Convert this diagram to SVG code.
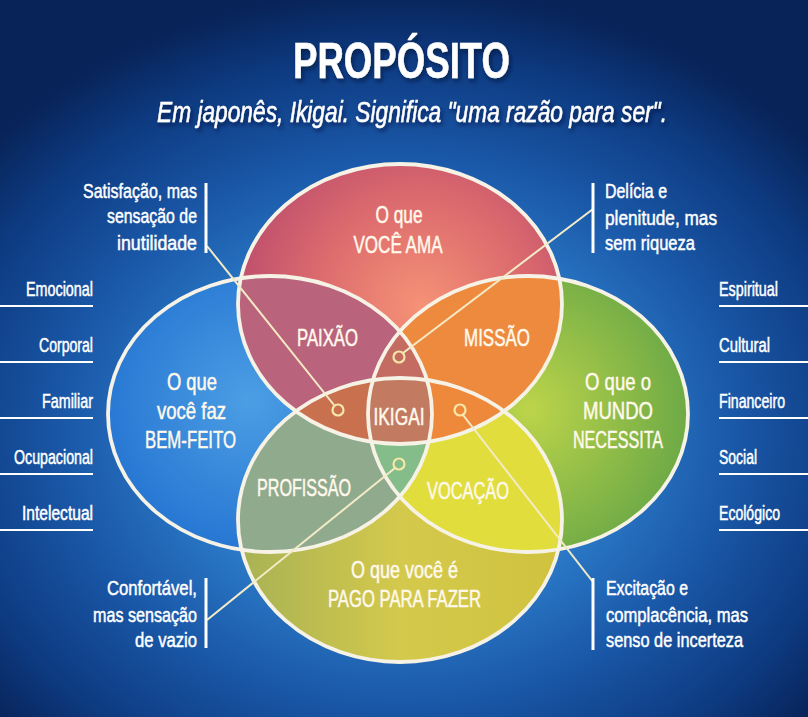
<svg xmlns="http://www.w3.org/2000/svg" width="808" height="717" viewBox="0 0 808 717">
<defs>
  <radialGradient id="bg" gradientUnits="userSpaceOnUse" cx="0" cy="0" r="1" gradientTransform="translate(400 430) scale(540 440)">
    <stop offset="0" stop-color="#4aa0e0"/>
    <stop offset="0.35" stop-color="#2f82cf"/>
    <stop offset="0.62" stop-color="#1a58a8"/>
    <stop offset="0.85" stop-color="#0d3a80"/>
    <stop offset="1" stop-color="#082358"/>
  </radialGradient>
  <radialGradient id="gT" gradientUnits="userSpaceOnUse" cx="420" cy="305" r="185">
    <stop offset="0" stop-color="#f59276"/>
    <stop offset="0.55" stop-color="#dd6c6e"/>
    <stop offset="1" stop-color="#bf4f6c"/>
  </radialGradient>
  <radialGradient id="gL" gradientUnits="userSpaceOnUse" cx="250" cy="400" r="175">
    <stop offset="0" stop-color="#4c9ee4"/>
    <stop offset="1" stop-color="#2070d0"/>
  </radialGradient>
  <radialGradient id="gR" gradientUnits="userSpaceOnUse" cx="530" cy="410" r="165">
    <stop offset="0" stop-color="#bcd44a"/>
    <stop offset="1" stop-color="#6aa846"/>
  </radialGradient>
  <linearGradient id="gB" gradientUnits="userSpaceOnUse" x1="240" y1="0" x2="563" y2="0">
    <stop offset="0" stop-color="#a8b254"/>
    <stop offset="0.5" stop-color="#d4c94c"/>
    <stop offset="1" stop-color="#cfc23e"/>
  </linearGradient>
  <clipPath id="cT"><ellipse cx="400" cy="304" rx="162" ry="140"/></clipPath>
  <clipPath id="cL"><ellipse cx="270" cy="414" rx="162" ry="138"/></clipPath>
  <clipPath id="cR"><ellipse cx="528" cy="414" rx="160" ry="138"/></clipPath>
  <clipPath id="cB"><ellipse cx="400" cy="520" rx="162" ry="142"/></clipPath>
  <filter id="sh" x="-10%" y="-20%" width="120%" height="150%">
    <feDropShadow dx="2" dy="3" stdDeviation="2" flood-color="#021030" flood-opacity="0.6"/>
  </filter>
</defs>
<style>
  text { font-family: "Liberation Sans", Arial, sans-serif; fill: #ffffff; stroke: #ffffff; stroke-width: 0.5; }
  .lbl { font-size: 24px; fill: #fff9ec; stroke: #fff9ec; text-anchor: middle; }
  .sub { font-size: 23px; fill: #fff9ec; stroke: #fff9ec; text-anchor: middle; }
  .side { font-size: 20px; }
  .note { font-size: 21px; }
  .rt { text-anchor: end; }
  .outline { fill: none; stroke: #f6f2e6; stroke-width: 3.8; }
  .conn { stroke: #f3ebc6; stroke-width: 2; fill: none; }
  .dot { stroke: #f5e7a8; stroke-width: 2.2; fill: none; }
  .bar { stroke: #ffffff; stroke-width: 3; }
  .rule { stroke: #ffffff; stroke-width: 2; }
</style>

<rect width="808" height="717" fill="url(#bg)"/>

<g id="title">
  <text x="401.5" y="78" font-size="50" font-weight="bold" text-anchor="middle" textLength="217" lengthAdjust="spacingAndGlyphs" filter="url(#sh)">PROPÓSITO</text>
  <text x="412" y="122" font-size="29" font-style="italic" text-anchor="middle" textLength="510" lengthAdjust="spacingAndGlyphs" filter="url(#sh)">Em japonês, Ikigai. Significa "uma razão para ser".</text>
</g>

<g id="venn-fills">
  <ellipse cx="270" cy="414" rx="162" ry="138" fill="url(#gL)"/>
  <ellipse cx="528" cy="414" rx="160" ry="138" fill="url(#gR)"/>
  <ellipse cx="400" cy="520" rx="162" ry="142" fill="url(#gB)"/>
  <ellipse cx="400" cy="304" rx="162" ry="140" fill="url(#gT)"/>
  <g clip-path="url(#cT)"><ellipse cx="270" cy="414" rx="162" ry="138" fill="#b9637c"/></g>
  <g clip-path="url(#cT)"><ellipse cx="528" cy="414" rx="160" ry="138" fill="#ee8a3e"/></g>
  <g clip-path="url(#cL)"><ellipse cx="400" cy="520" rx="162" ry="142" fill="#90aa8e"/></g>
  <g clip-path="url(#cR)"><ellipse cx="400" cy="520" rx="162" ry="142" fill="#e0dd3c"/></g>
  <g clip-path="url(#cT)"><g clip-path="url(#cL)"><ellipse cx="400" cy="520" rx="162" ry="142" fill="#c9714f"/></g></g>
  <g clip-path="url(#cT)"><g clip-path="url(#cR)"><ellipse cx="400" cy="520" rx="162" ry="142" fill="#ee883a"/></g></g>
  <g clip-path="url(#cT)"><g clip-path="url(#cL)"><ellipse cx="528" cy="414" rx="160" ry="138" fill="#c46c62"/></g></g>
  <g clip-path="url(#cB)"><g clip-path="url(#cL)"><ellipse cx="528" cy="414" rx="160" ry="138" fill="#84bc8a"/></g></g>
  <g clip-path="url(#cT)"><g clip-path="url(#cL)"><g clip-path="url(#cR)"><ellipse cx="400" cy="520" rx="162" ry="142" fill="#c27a60"/></g></g></g>
</g>

<g id="node-ama">
  <ellipse class="outline" cx="400" cy="304" rx="162" ry="140"/>
  <text class="lbl" x="399" y="223" textLength="47" lengthAdjust="spacingAndGlyphs">O que</text>
  <text class="lbl" x="398" y="253" textLength="89" lengthAdjust="spacingAndGlyphs">VOCÊ AMA</text>
</g>
<g id="node-bemfeito">
  <ellipse class="outline" cx="270" cy="414" rx="162" ry="138"/>
  <text class="lbl" x="192" y="390" textLength="50" lengthAdjust="spacingAndGlyphs">O que</text>
  <text class="lbl" x="191.5" y="419" textLength="69" lengthAdjust="spacingAndGlyphs">você faz</text>
  <text class="lbl" x="190.5" y="448" textLength="91" lengthAdjust="spacingAndGlyphs">BEM-FEITO</text>
</g>
<g id="node-mundo">
  <ellipse class="outline" cx="528" cy="414" rx="160" ry="138"/>
  <text class="lbl" x="618" y="390" textLength="66" lengthAdjust="spacingAndGlyphs">O que o</text>
  <text class="lbl" x="618" y="419" textLength="70" lengthAdjust="spacingAndGlyphs">MUNDO</text>
  <text class="lbl" x="618" y="448" textLength="90" lengthAdjust="spacingAndGlyphs">NECESSITA</text>
</g>
<g id="node-pago">
  <ellipse class="outline" cx="400" cy="520" rx="162" ry="142"/>
  <text class="lbl" x="404.5" y="578" textLength="107" lengthAdjust="spacingAndGlyphs">O que você é</text>
  <text class="lbl" x="404.5" y="607" textLength="153" lengthAdjust="spacingAndGlyphs">PAGO PARA FAZER</text>
</g>

<g id="overlap-labels">
  <g id="node-paixao"><text class="sub" x="327.5" y="346" textLength="61" lengthAdjust="spacingAndGlyphs">PAIXÃO</text></g>
  <g id="node-missao"><text class="sub" x="497" y="346" textLength="66" lengthAdjust="spacingAndGlyphs">MISSÃO</text></g>
  <g id="node-ikigai"><text class="sub" x="399" y="425" textLength="51" lengthAdjust="spacingAndGlyphs">IKIGAI</text></g>
  <g id="node-profissao"><text class="sub" x="304" y="496" textLength="94" lengthAdjust="spacingAndGlyphs">PROFISSÃO</text></g>
  <g id="node-vocacao"><text class="sub" x="468" y="499" textLength="82" lengthAdjust="spacingAndGlyphs">VOCAÇÃO</text></g>
</g>

<g id="connectors">
  <line class="conn" x1="207" y1="246" x2="334" y2="405"/>
  <line class="conn" x1="593" y1="209" x2="403" y2="353"/>
  <line class="conn" x1="207" y1="620" x2="395" y2="468"/>
  <line class="conn" x1="593" y1="582" x2="463" y2="415"/>
  <circle class="dot" cx="338" cy="410" r="5.5"/>
  <circle class="dot" cx="399" cy="357" r="5.5"/>
  <circle class="dot" cx="399" cy="464" r="5.5"/>
  <circle class="dot" cx="460" cy="410" r="5.5"/>
</g>

<g id="note-satisfacao">
  <line class="bar" x1="206" y1="183" x2="206" y2="253"/>
  <text class="note rt" x="197" y="198" textLength="114" lengthAdjust="spacingAndGlyphs">Satisfação, mas</text>
  <text class="note rt" x="197" y="223" textLength="90" lengthAdjust="spacingAndGlyphs">sensação de</text>
  <text class="note rt" x="197" y="250" textLength="80" lengthAdjust="spacingAndGlyphs">inutilidade</text>
</g>
<g id="note-delicia">
  <line class="bar" x1="593" y1="183" x2="593" y2="253"/>
  <text class="note" x="605" y="198" textLength="62" lengthAdjust="spacingAndGlyphs">Delícia e</text>
  <text class="note" x="605" y="225" textLength="112" lengthAdjust="spacingAndGlyphs">plenitude, mas</text>
  <text class="note" x="605" y="250" textLength="90" lengthAdjust="spacingAndGlyphs">sem riqueza</text>
</g>
<g id="note-confortavel">
  <line class="bar" x1="206" y1="578" x2="206" y2="648"/>
  <text class="note rt" x="197" y="595" textLength="90" lengthAdjust="spacingAndGlyphs">Confortável,</text>
  <text class="note rt" x="197" y="622" textLength="104" lengthAdjust="spacingAndGlyphs">mas sensação</text>
  <text class="note rt" x="197" y="647" textLength="62" lengthAdjust="spacingAndGlyphs">de vazio</text>
</g>
<g id="note-excitacao">
  <line class="bar" x1="593" y1="578" x2="593" y2="650"/>
  <text class="note" x="606" y="595" textLength="82" lengthAdjust="spacingAndGlyphs">Excitação e</text>
  <text class="note" x="606" y="622" textLength="142" lengthAdjust="spacingAndGlyphs">complacência, mas</text>
  <text class="note" x="606" y="647" textLength="137" lengthAdjust="spacingAndGlyphs">senso de incerteza</text>
</g>

<g id="left-list">
  <text class="side rt" x="93" y="296" textLength="67" lengthAdjust="spacingAndGlyphs">Emocional</text>
  <line class="rule" x1="0" y1="306" x2="93" y2="306"/>
  <text class="side rt" x="93" y="352" textLength="54" lengthAdjust="spacingAndGlyphs">Corporal</text>
  <line class="rule" x1="0" y1="362" x2="93" y2="362"/>
  <text class="side rt" x="93" y="408" textLength="51" lengthAdjust="spacingAndGlyphs">Familiar</text>
  <line class="rule" x1="0" y1="418" x2="93" y2="418"/>
  <text class="side rt" x="93" y="464" textLength="79" lengthAdjust="spacingAndGlyphs">Ocupacional</text>
  <line class="rule" x1="0" y1="474" x2="93" y2="474"/>
  <text class="side rt" x="93" y="520" textLength="71" lengthAdjust="spacingAndGlyphs">Intelectual</text>
  <line class="rule" x1="0" y1="530" x2="93" y2="530"/>
</g>
<g id="right-list">
  <text class="side" x="719" y="296" textLength="59" lengthAdjust="spacingAndGlyphs">Espiritual</text>
  <line class="rule" x1="719" y1="306" x2="808" y2="306"/>
  <text class="side" x="719" y="352" textLength="51" lengthAdjust="spacingAndGlyphs">Cultural</text>
  <line class="rule" x1="719" y1="362" x2="808" y2="362"/>
  <text class="side" x="719" y="408" textLength="66" lengthAdjust="spacingAndGlyphs">Financeiro</text>
  <line class="rule" x1="719" y1="418" x2="808" y2="418"/>
  <text class="side" x="719" y="464" textLength="38" lengthAdjust="spacingAndGlyphs">Social</text>
  <line class="rule" x1="719" y1="474" x2="808" y2="474"/>
  <text class="side" x="719" y="520" textLength="61" lengthAdjust="spacingAndGlyphs">Ecológico</text>
  <line class="rule" x1="719" y1="530" x2="808" y2="530"/>
</g>
</svg>
